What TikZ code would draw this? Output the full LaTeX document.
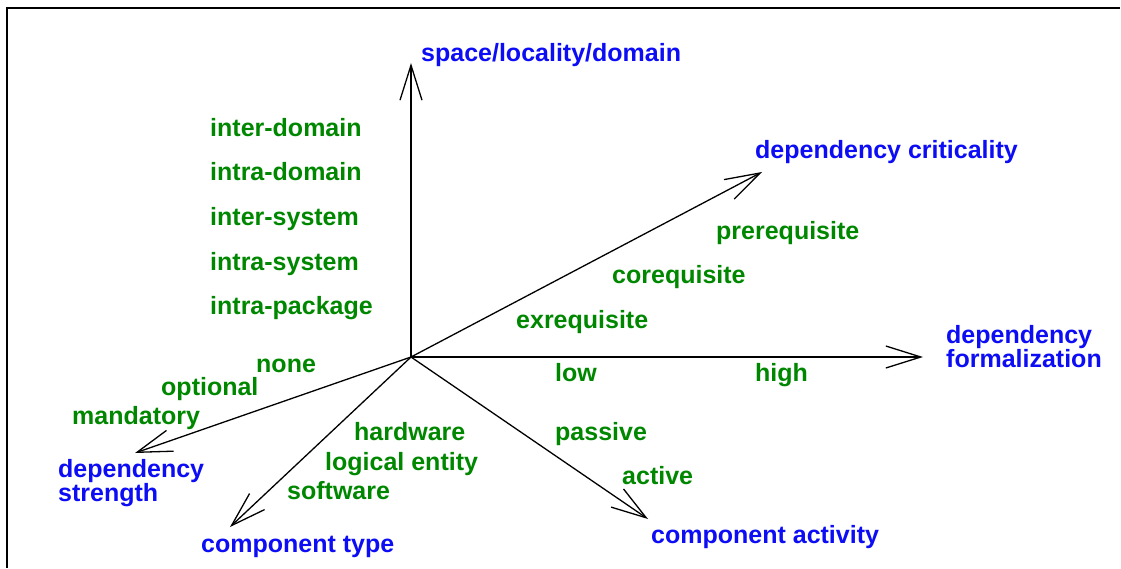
\documentclass[tikz,border=0pt]{standalone}
\usepackage{fontspec}
\setmainfont{Liberation Sans}
\usetikzlibrary{arrows.meta}
\definecolor{axblue}{RGB}{12,12,245}
\definecolor{lgreen}{RGB}{0,135,0}
\begin{document}
\begin{tikzpicture}[x=1pt,y=-1pt,
  axis/.style={line width=1.3pt,-{Straight Barb[length=35pt,width=22pt,line width=1.3pt]}},
  lbl/.style={anchor=base west,inner sep=0pt,font=\bfseries\fontsize{25}{22}\selectfont},
  axlbl/.style={lbl,text=axblue,align=left},
  vallbl/.style={lbl,text=lgreen}]
\useasboundingbox (0,0) rectangle (1121,568);
\draw[line width=2.5pt] (7,568) -- (7,8) -- (1120,8);
\coordinate (O) at (411,357);
\coordinate (tUp) at (411,63);
\coordinate (tCrit) at (762,172);
\coordinate (tForm) at (923,357);
\coordinate (tStr) at (135,453);
\coordinate (tType) at (230,527);
\coordinate (tAct) at (648,519);
\foreach \t in {tUp,tCrit,tForm,tStr,tType,tAct} \draw[axis] (O) -- (\t);
% axis labels
\node[axlbl] (space) at (421,61) {space/locality/domain};
\node[axlbl] (crit) at (755,158) {dependency criticality};
\node[axlbl,anchor=north west] (form) at (946,325) {dependency\\formalization};
\node[axlbl,anchor=north west] (str) at (58,459) {dependency\\strength};
\node[axlbl] (ctype) at (201,552) {component type};
\node[axlbl] (cact) at (651,543) {component activity};
% values
\node[vallbl] (v1) at (210,136) {inter-domain};
\node[vallbl] (v2) at (210,180) {intra-domain};
\node[vallbl] (v3) at (210,225) {inter-system};
\node[vallbl] (v4) at (210,270) {intra-system};
\node[vallbl] (v5) at (210,314) {intra-package};
\node[vallbl] (c1) at (716,239) {prerequisite};
\node[vallbl] (c2) at (612,283) {corequisite};
\node[vallbl] (c3) at (516,328) {exrequisite};
\node[vallbl] (f1) at (555,381) {low};
\node[vallbl] (f2) at (755,381) {high};
\node[vallbl] (s1) at (256,372) {none};
\node[vallbl] (s2) at (161,395) {optional};
\node[vallbl] (s3) at (72,424) {mandatory};
\node[vallbl] (t1) at (354,440) {hardware};
\node[vallbl] (t2) at (325,470) {logical entity};
\node[vallbl] (t3) at (287,499) {software};
\node[vallbl] (a1) at (555,440) {passive};
\node[vallbl] (a2) at (622,484) {active};
\end{tikzpicture}
\end{document}
